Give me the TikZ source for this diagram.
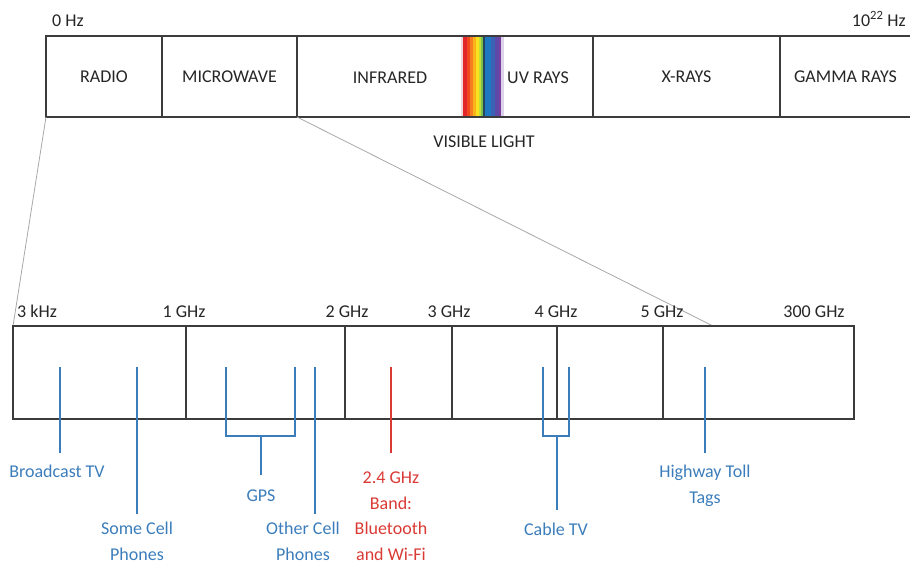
\documentclass[tikz,border=0pt]{standalone}
\usepackage{fontspec}
\setmainfont{Carlito}
\definecolor{barline}{HTML}{3C3C3C}
\definecolor{zoomline}{HTML}{A8A8A8}
\definecolor{txt}{HTML}{262626}
\definecolor{bandblue}{HTML}{3B7DBB}
\definecolor{bandred}{HTML}{DA3A34}
\definecolor{sp0}{HTML}{F2D6DC}
\definecolor{sp1}{HTML}{E3262A}
\definecolor{sp2}{HTML}{F0471F}
\definecolor{sp3}{HTML}{F57F20}
\definecolor{sp4}{HTML}{F9B21C}
\definecolor{sp5}{HTML}{F8E21E}
\definecolor{sp6}{HTML}{C6DD3A}
\definecolor{sp7}{HTML}{7CC24A}
\definecolor{sp8}{HTML}{24465E}
\definecolor{sp9}{HTML}{1E78C2}
\definecolor{sp10}{HTML}{3A63B5}
\definecolor{sp11}{HTML}{5E48A8}
\definecolor{sp12}{HTML}{7A3E9E}
\definecolor{sp13}{HTML}{DCD2EA}
\tikzset{
  seg/.style={draw=barline, line width=1.4pt, inner sep=0pt, text=txt, font=\fontsize{18}{22}\selectfont},
  freq/.style={inner sep=0pt, anchor=base, text=txt, font=\fontsize{18}{22}\selectfont},
  zl/.style={draw=zoomline, line width=0.8pt},
  bl/.style={draw=bandblue, line width=1.8pt},
  rl/.style={draw=bandred, line width=1.8pt},
  blab/.style={inner sep=0pt, anchor=base, align=center, text=bandblue, font=\fontsize{18}{25.5}\selectfont},
  rlab/.style={blab, text=bandred},
}
\begin{document}
\begin{tikzpicture}[x=1pt,y=-1pt]
\useasboundingbox (0,0) rectangle (910,565);
% ---------- top bar ----------
\node[seg, minimum width=116pt, minimum height=81pt] (radio) at (104,76.5) {RADIO};
\node[seg, minimum width=135pt, minimum height=81pt] (micro) at (229.5,76.5) {MICROWAVE};
\node[seg, minimum width=296pt, minimum height=81pt] (ir) at (445,76.5) {};
\node[seg, minimum width=187pt, minimum height=81pt] (xray) at (686.5,76.5) {X-RAYS};
\node[seg, minimum width=131pt, minimum height=81pt] (gamma) at (845.5,76.5) {GAMMA RAYS};
\node[freq] (irlab) at (390,83) {INFRARED};
\node[freq] (uvlab) at (538,83) {UV RAYS};
% visible spectrum strips
\fill[sp0] (460.5,36.7) rectangle (463,116.3);
\fill[sp1] (463,36.7) rectangle (467,116.3);
\fill[sp2] (467,36.7) rectangle (470,116.3);
\fill[sp3] (470,36.7) rectangle (473,116.3);
\fill[sp4] (473,36.7) rectangle (476,116.3);
\fill[sp5] (476,36.7) rectangle (479,116.3);
\fill[sp6] (479,36.7) rectangle (481,116.3);
\fill[sp7] (481,36.7) rectangle (483,116.3);
\fill[sp8] (483,36.7) rectangle (485,116.3);
\fill[sp9] (485,36.7) rectangle (491,116.3);
\fill[sp10] (491,36.7) rectangle (495,116.3);
\fill[sp11] (495,36.7) rectangle (499,116.3);
\fill[sp12] (499,36.7) rectangle (501,116.3);
\fill[sp13] (501,36.7) rectangle (503.5,116.3);
\node[freq] (hz0) at (68,26) {0 Hz};
\node[freq, anchor=base east] (hz22) at (906,26) {10\textsuperscript{22} Hz};
\node[freq] (vis) at (484,147) {VISIBLE LIGHT};
% ---------- zoom lines ----------
\coordinate (zA) at (46,117);
\coordinate (zB) at (297,117);
\coordinate (zC) at (13,326);
\coordinate (zD) at (713,326);
\draw[zl] (zA) -- (zC);
\draw[zl] (zB) -- (zD);
% ---------- lower bar ----------
\node[seg, minimum width=173pt, minimum height=93pt] (s1) at (99.5,372.5) {};
\node[seg, minimum width=159pt, minimum height=93pt] (s2) at (265.5,372.5) {};
\node[seg, minimum width=107pt, minimum height=93pt] (s3) at (398.5,372.5) {};
\node[seg, minimum width=105pt, minimum height=93pt] (s4) at (504.5,372.5) {};
\node[seg, minimum width=106pt, minimum height=93pt] (s5) at (610,372.5) {};
\node[seg, minimum width=191pt, minimum height=93pt] (s6) at (758.5,372.5) {};
\node[freq, anchor=base west] (f0) at (17,317) {3 kHz};
\node[freq] (f1) at (184,317) {1 GHz};
\node[freq] (f2) at (347,317) {2 GHz};
\node[freq] (f3) at (449,317) {3 GHz};
\node[freq] (f4) at (556,317) {4 GHz};
\node[freq] (f5) at (662,317) {5 GHz};
\node[freq] (f6) at (814,317) {300 GHz};
% ---------- band markers ----------
\coordinate (btvT) at (60,367); \coordinate (btvB) at (60,453);
\draw[bl] (btvT) -- (btvB);
\coordinate (sccT) at (137,367); \coordinate (sccB) at (137,514);
\draw[bl] (sccT) -- (sccB);
\coordinate (gpsA) at (226,367); \coordinate (gpsB) at (295,367);
\coordinate (gpsM) at (261,436); \coordinate (gpsE) at (261,475);
\draw[bl] (gpsA) |- (gpsM) -| (gpsB);
\draw[bl] (gpsM) -- (gpsE);
\coordinate (occT) at (315,367); \coordinate (occB) at (315,514);
\draw[bl] (occT) -- (occB);
\coordinate (wifT) at (391,367); \coordinate (wifB) at (391,453);
\draw[rl] (wifT) -- (wifB);
\coordinate (ctvA) at (543,367); \coordinate (ctvB) at (569,367);
\coordinate (ctvM) at (557,436); \coordinate (ctvE) at (557,510);
\draw[bl] (ctvA) |- (ctvM) -| (ctvB);
\draw[bl] (ctvM) -- (ctvE);
\coordinate (tolT) at (705,367); \coordinate (tolB) at (705,453);
\draw[bl] (tolT) -- (tolB);
% ---------- labels (base = baseline of last line) ----------
\node[blab] (btv) at (57,477) {Broadcast TV};
\node[blab] (scc) at (137,560) {Some Cell\\Phones};
\node[blab] (gps) at (261,501) {GPS};
\node[blab] (occ) at (303,560) {Other Cell\\Phones};
\node[rlab] (wifi) at (391,560) {2.4 GHz\\Band:\\Bluetooth\\and Wi-Fi};
\node[blab] (ctv) at (556,535) {Cable TV};
\node[blab] (tol) at (705,503) {Highway Toll\\Tags};
\end{tikzpicture}
\end{document}
